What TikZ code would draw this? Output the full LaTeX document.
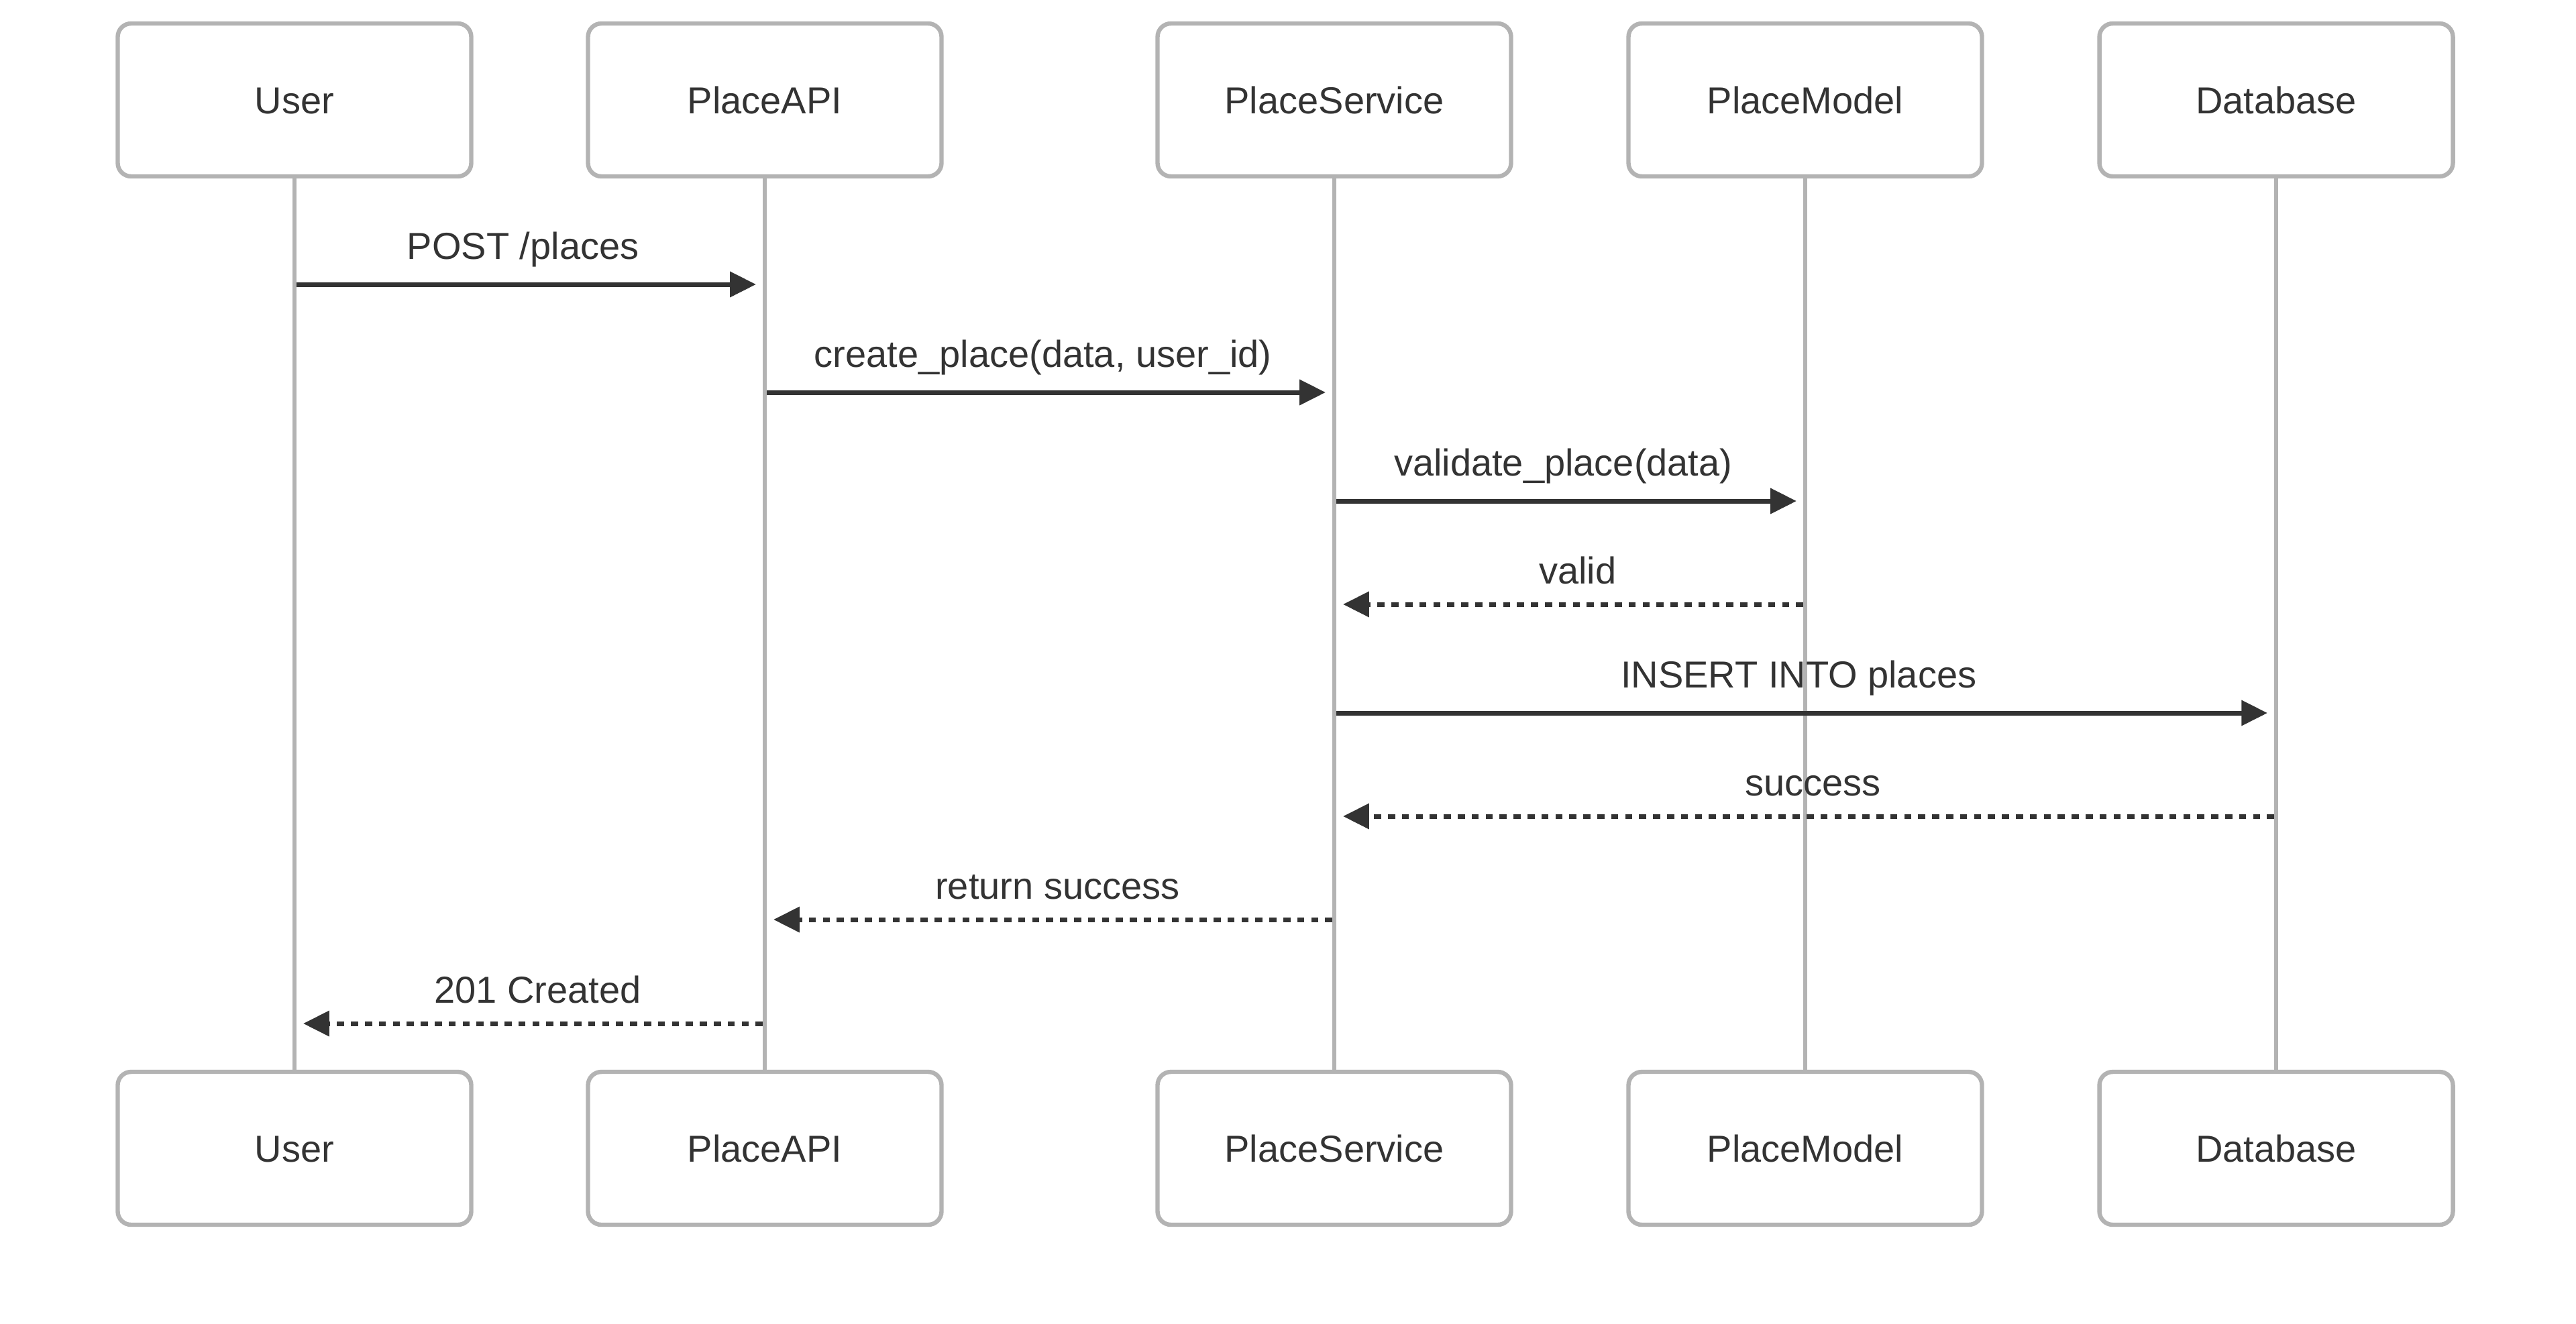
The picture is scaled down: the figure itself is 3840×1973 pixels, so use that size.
\documentclass[tikz,border=0pt]{standalone}
\usepackage{fontspec}
\setmainfont{Liberation Sans}
\usetikzlibrary{arrows.meta}
\definecolor{actorline}{HTML}{B3B3B3}
\definecolor{ink}{HTML}{333333}
\begin{document}
\begin{tikzpicture}[x=0.25pt,y=-0.25pt,
  actor/.style={draw=actorline, line width=1.6pt, fill=white, rounded corners=5pt,
    minimum width=131.75pt, minimum height=57pt, inner sep=0pt,
    text height=10pt, text depth=0pt, text=ink, font=\fontsize{14}{16}\selectfont},
  lifeline/.style={draw=actorline, line width=1.5pt},
  msg/.style={draw=ink, line width=1.75pt, -{Triangle[length=9.7pt,width=9.2pt]}},
  reply/.style={msg, dash pattern=on 2.65pt off 2.55pt},
  lbl/.style={midway, anchor=base, yshift=9.5pt, xshift=-1.2pt, text=ink, inner sep=0pt,
    font=\fontsize{14}{16}\selectfont},
  rlbl/.style={lbl, yshift=-1.75pt, xshift=2.9pt}]
\useasboundingbox[fill=white] (0,0) rectangle (3840,1973);

% actors
\node[actor] (uT) at (439,149) {User};
\node[actor] (aT) at (1140,149) {PlaceAPI};
\node[actor] (sT) at (1989,149) {PlaceService};
\node[actor] (mT) at (2691,149) {PlaceModel};
\node[actor] (dT) at (3393,149) {Database};
\node[actor] (uB) at (439,1712) {User};
\node[actor] (aB) at (1140,1712) {PlaceAPI};
\node[actor] (sB) at (1989,1712) {PlaceService};
\node[actor] (mB) at (2691,1712) {PlaceModel};
\node[actor] (dB) at (3393,1712) {Database};

% lifelines
\draw[lifeline] (uT) -- (uB);
\draw[lifeline] (aT) -- (aB);
\draw[lifeline] (sT) -- (sB);
\draw[lifeline] (mT) -- (mB);
\draw[lifeline] (dT) -- (dB);

% message end points
\coordinate (m1a) at (442,424);  \coordinate (m1b) at (1127,424);
\coordinate (m2a) at (1143,585); \coordinate (m2b) at (1976,585);
\coordinate (m3a) at (1992,747); \coordinate (m3b) at (2678,747);
\coordinate (m4a) at (2688,901); \coordinate (m4b) at (2002,901);
\coordinate (m5a) at (1992,1063); \coordinate (m5b) at (3380,1063);
\coordinate (m6a) at (3390,1217); \coordinate (m6b) at (2002,1217);
\coordinate (m7a) at (1986,1371); \coordinate (m7b) at (1153,1371);
\coordinate (m8a) at (1137,1526); \coordinate (m8b) at (452,1526);

% messages
\draw[msg] (m1a) -- node[lbl]{POST /places} (m1b);
\draw[msg] (m2a) -- node[lbl]{create\_place(data, user\_id)} (m2b);
\draw[msg] (m3a) -- node[lbl]{validate\_place(data)} (m3b);
\draw[reply] (m4a) -- node[rlbl]{valid} (m4b);
\draw[msg] (m5a) -- node[lbl]{INSERT INTO places} (m5b);
\draw[reply] (m6a) -- node[rlbl]{success} (m6b);
\draw[reply] (m7a) -- node[rlbl]{return success} (m7b);
\draw[reply] (m8a) -- node[rlbl]{201 Created} (m8b);
\end{tikzpicture}
\end{document}
